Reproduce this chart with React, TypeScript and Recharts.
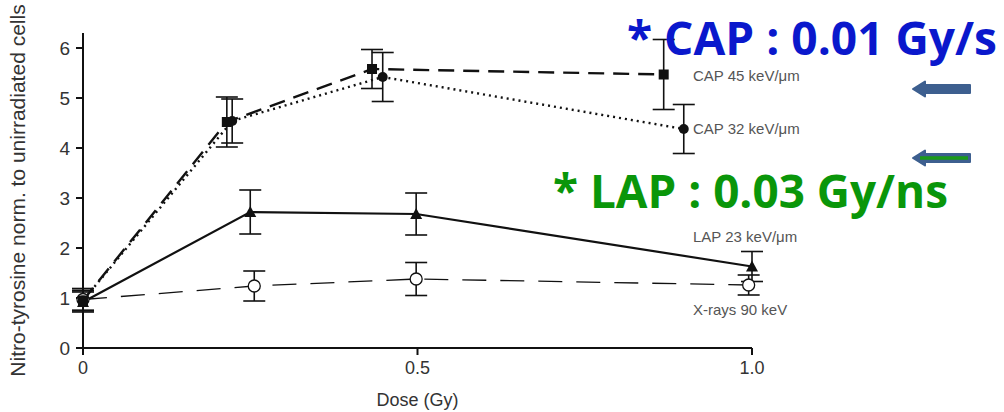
import React from 'react';
import { LineChart, Line, XAxis, YAxis, ErrorBar, Label } from 'recharts';

// dose (Gy) and response values
const cap45Dose = [0, 0.215, 0.432, 0.868];
const cap45Val = [0.95, 4.52, 5.58, 5.47];
const cap45Err = [0.2, 0.5, 0.39, 0.7];

const cap32Dose = [0, 0.223, 0.448, 0.898];
const cap32Val = [0.95, 4.54, 5.42, 4.38];
const cap32Err = [0.2, 0.44, 0.49, 0.49];

const lapDose = [0, 0.25, 0.498, 1.0];
const lapVal = [0.92, 2.72, 2.68, 1.63];
const lapErr = [0.2, 0.44, 0.42, 0.3];

const xrayDose = [0, 0.256, 0.498, 0.995];
const xrayVal = [0.97, 1.24, 1.38, 1.26];
const xrayErr = [0.22, 0.3, 0.33, 0.2];

const yTicks = [0, 1, 2, 3, 4, 5, 6];
const xTicks = [0, 0.5, 1.0];

const toRows = (dose: number[], val: number[], err: number[]) =>
    dose.map((d, i) => ({ dose: d, val: val[i], err: err[i] }));

const cap45 = toRows(cap45Dose, cap45Val, cap45Err);
const cap32 = toRows(cap32Dose, cap32Val, cap32Err);
const lap = toRows(lapDose, lapVal, lapErr);
const xray = toRows(xrayDose, xrayVal, xrayErr);

const ink = '#111';
const tickStyle = { fill: '#333', fontSize: 19, fontFamily: 'Liberation Sans, Arial, sans-serif' };

// marker shapes
const SquareDot = (p: any) => (
    <rect key={`sq-${p.index}`} x={p.cx - 5} y={p.cy - 5} width={10} height={10} fill={ink} />
);
const RoundDot = (p: any) => (
    <circle key={`rd-${p.index}`} cx={p.cx} cy={p.cy} r={5} fill={ink} />
);
const TriDot = (p: any) => (
    <path key={`tr-${p.index}`} d={`M${p.cx},${p.cy - 6} L${p.cx + 6},${p.cy + 5} L${p.cx - 6},${p.cy + 5} Z`} fill={ink} />
);
const OpenDot = (p: any) => (
    <circle key={`op-${p.index}`} cx={p.cx} cy={p.cy} r={6} fill="#fff" stroke={ink} strokeWidth={1.3} />
);

export default function App() {
    return (
        <div style={{ position: 'absolute', left: 0, top: 0, width: 1004, height: 412, background: '#fff' }}>
            <LineChart width={1004} height={412} margin={{ top: 33, right: 252, bottom: 0, left: 0 }}>
                <XAxis
                    type="number"
                    dataKey="dose"
                    domain={[0, 1]}
                    ticks={xTicks}
                    tickFormatter={(v) => (v === 0 ? '0' : v.toFixed(1))}
                    height={64}
                    tick={{ ...tickStyle, fontSize: 18 }}
                    tickSize={7}
                    tickMargin={6}
                    stroke={ink}
                    strokeWidth={2}
                    allowDuplicatedCategory={false}
                >
                    <Label value="Dose (Gy)" position="insideBottom" offset={6} fill="#333" fontSize={18} fontFamily="Liberation Sans, Arial, sans-serif" />
                </XAxis>
                <YAxis
                    type="number"
                    dataKey="val"
                    domain={[0, 6.3]}
                    ticks={yTicks}
                    width={83}
                    tick={tickStyle}
                    tickSize={7}
                    tickMargin={6}
                    stroke={ink}
                    strokeWidth={2}
                >
                    <Label
                        value="Nitro-tyrosine norm. to unirradiated cells"
                        angle={-90}
                        position="insideLeft"
                        offset={18}
                        dx={0}
                        fill="#333"
                        fontSize={21}
                        fontFamily="Liberation Sans, Arial, sans-serif"
                        style={{ textAnchor: 'middle' }}
                    />
                </YAxis>

                <Line data={xray} dataKey="val" stroke={ink} strokeWidth={1.3} strokeDasharray="24 14" dot={OpenDot} isAnimationActive={false}>
                    <ErrorBar dataKey="err" direction="y" width={11} stroke={ink} strokeWidth={1.6} />
                </Line>
                <Line data={lap} dataKey="val" stroke={ink} strokeWidth={2.2} dot={TriDot} isAnimationActive={false}>
                    <ErrorBar dataKey="err" direction="y" width={11} stroke={ink} strokeWidth={1.6} />
                </Line>
                <Line data={cap32} dataKey="val" stroke={ink} strokeWidth={2.4} strokeDasharray="2 4" dot={RoundDot} isAnimationActive={false}>
                    <ErrorBar dataKey="err" direction="y" width={11} stroke={ink} strokeWidth={1.6} />
                </Line>
                <Line data={cap45} dataKey="val" stroke={ink} strokeWidth={2.4} strokeDasharray="16 9" dot={SquareDot} isAnimationActive={false}>
                    <ErrorBar dataKey="err" direction="y" width={11} stroke={ink} strokeWidth={1.6} />
                </Line>
            </LineChart>

            {/* annotations on top of the chart */}
            <svg width={1004} height={412} style={{ position: 'absolute', left: 0, top: 0, pointerEvents: 'none' }}>
                <g fontFamily="Liberation Sans, Arial, sans-serif" fontSize={15} fill="#555">
                    <text x={693} y={81}>CAP 45 keV/μm</text>
                    <text x={693} y={134}>CAP 32 keV/μm</text>
                    <text x={693} y={242}>LAP 23 keV/μm</text>
                    <text x={693} y={315}>X-rays 90 keV</text>
                </g>
                <text x={627} y={55} fontFamily="Open Sans, sans-serif" fontWeight={700} fontSize={46} fill="#0A18CC" textLength={370} lengthAdjust="spacingAndGlyphs">
                    * CAP : 0.01 Gy/s
                </text>
                <text x={553} y={208} fontFamily="Open Sans, sans-serif" fontWeight={700} fontSize={46} fill="#0A960A" textLength={395} lengthAdjust="spacingAndGlyphs">
                    * LAP : 0.03 Gy/ns
                </text>
                <path d="M913,89 L925,81.5 L925,85 L970,85 L970,93 L925,93 L925,96.5 Z" fill="#3D5F8F" stroke="#3D5F8F" strokeWidth={2} strokeLinejoin="round" />
                <path d="M913,158 L925,150.5 L925,154 L970,154 L970,162 L925,162 L925,165.5 Z" fill="#3D5F8F" stroke="#3D5F8F" strokeWidth={2} strokeLinejoin="round" />
                <line x1={920} y1={158} x2={968} y2={158} stroke="#1A9A1A" strokeWidth={3.5} />
            </svg>
        </div>
    );
}
